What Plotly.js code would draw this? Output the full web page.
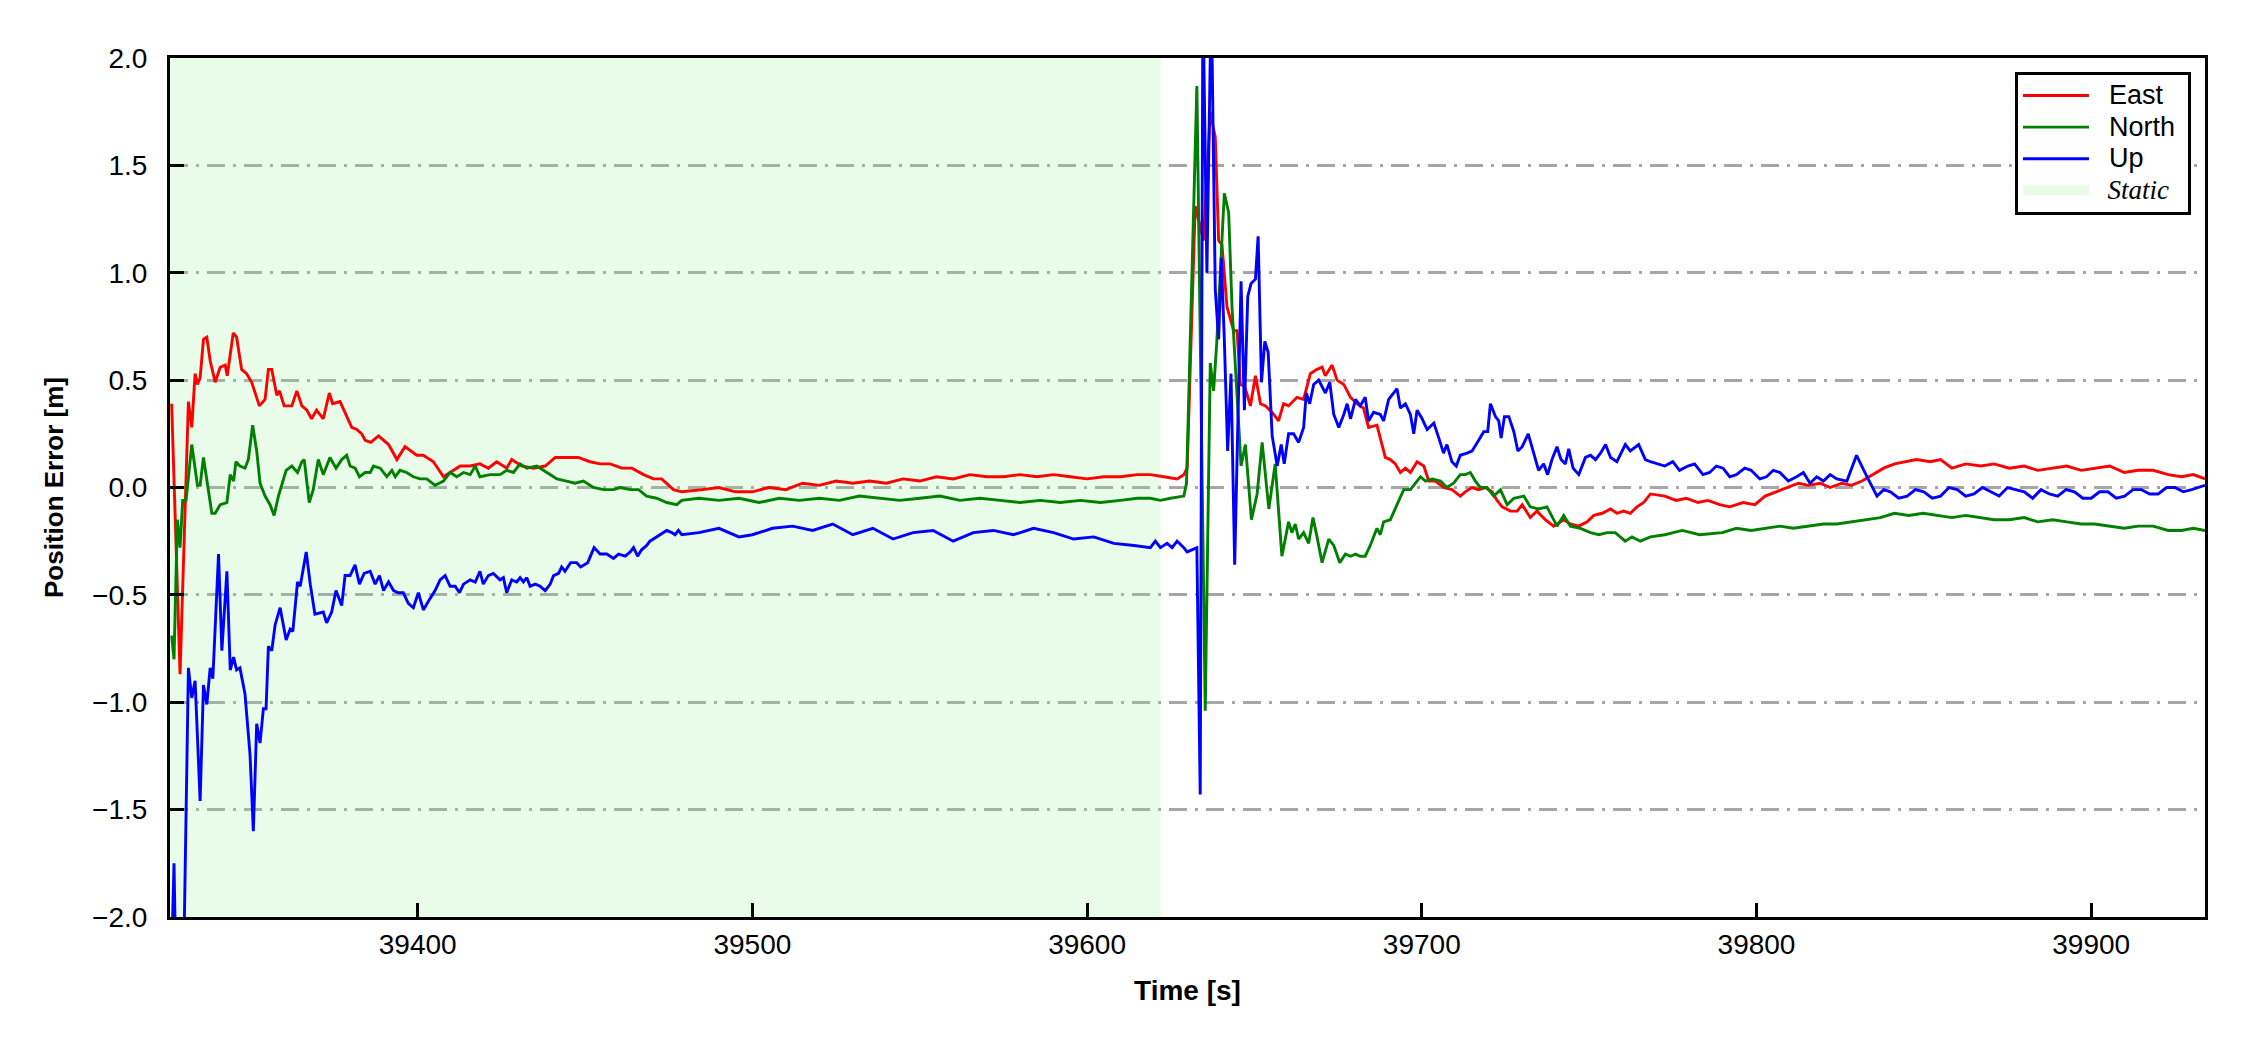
<!DOCTYPE html>
<html>
<head>
<meta charset="utf-8">
<script src="https://cdn.plot.ly/plotly-3.0.1.min.js"></script>
<style>html,body{margin:0;padding:0;background:#fff;}#chart{width:2250px;height:1050px;}</style>
</head>
<body>
<div id="chart"></div>
<script>
// ---------------- data ----------------
const seriesNames = ["East", "North", "Up"];
const staticLabel = "Static";
const staticStart = [39326];
const staticEnd = [39622];
const xTicks = [39400, 39500, 39600, 39700, 39800, 39900];
const yTicks = [-2.0, -1.5, -1.0, -0.5, 0.0, 0.5, 1.0, 1.5, 2.0];
const xRange = [39326, 39934];
const yRange = [-2, 2];

const eastT = [39326.5,39329.0,39331.5,39332.5,39333.5,39334.2,39335.0,39336.0,39337.0,39338.0,39339.5,39341.0,39342.5,39343.1,39344.9,39345.9,39347.4,39348.9,39350.4,39352.7,39354.4,39355.4,39356.4,39357.9,39358.7,39360.1,39362.4,39363.9,39365.4,39366.9,39368.3,39369.8,39371.8,39373.6,39374.6,39376.8,39380.3,39381.8,39383.3,39384.3,39386.0,39388.3,39391.3,39393.8,39396.2,39399.7,39401.7,39404.7,39407.7,39409.7,39412.7,39415.7,39418.6,39421.1,39423.6,39426.6,39428.1,39431.1,39434.6,39438.1,39441.1,39444.5,39448.0,39451.5,39454.5,39457.5,39461.0,39464.0,39467.5,39470.4,39472.9,39476.4,39478.9,
39485,39490,39495,39500,39505,39510,39515,39520,39525,39530,39535,39540,39545,39550,39555,39560,39565,39570,39575,39580,39585,39590,39595,39600,39605,39610,39615,
39618.9,39622.9,39626.9,39628.9,39629.9,39632.3,39634.8,39636.8,39638.3,39639.3,39640.3,39641.8,39643.8,39644.8,39645.8,39647.1,39648.8,39650.3,39651.8,39653.3,39655.3,39657.2,39658.7,39660.2,39662.7,39664.7,39666.7,39668.7,39670.2,39671.2,39673.2,39674.7,39676.7,39678.7,39680.7,39682.6,39684.1,39686.6,39689.1,39690.6,39692.1,39693.6,39695.1,39696.6,39698.6,39700.6,39702.1,39704.1,39706.5,39709.0,39711.5,39713.0,39715.0,39717.0,39719.0,39721.0,39722.5,39724.0,39726.5,39728.5,39730.0,39732.4,39734.4,39736.9,39739.4,39742.4,39744.4,39746.9,39749.4,39751.4,39753.9,39756.4,39758.3,39760.3,39762.3,39764.3,39766.3,39768.3,
39772.6,39776.0,39779.0,39782.5,39785.5,39789.0,39792.0,39796.0,39799.5,39802.6,39806.0,39809.0,39812.5,39815.5,39819.0,39822.0,39825.5,39828.4,39831.5,39834.8,39838.0,39841.3,39844.5,39847.7,39852.0,39855.0,39858.4,39862.5,39867.0,39871.0,39875.5,39880.0,39884.0,39888.5,39892.7,39897.0,39901.0,39905.5,39909.9,39914.0,39918.5,39923.0,39927.0,39930.5,39934.0];
const eastV = [0.39,-0.87,0.40,0.28,0.53,0.48,0.51,0.69,0.70,0.59,0.49,0.56,0.57,0.52,0.72,0.70,0.55,0.53,0.49,0.38,0.41,0.55,0.55,0.43,0.45,0.38,0.38,0.45,0.38,0.36,0.32,0.36,0.32,0.44,0.39,0.40,0.28,0.27,0.25,0.22,0.21,0.24,0.20,0.13,0.19,0.15,0.15,0.12,0.05,0.07,0.10,0.10,0.11,0.09,0.12,0.09,0.13,0.10,0.09,0.10,0.14,0.14,0.14,0.12,0.11,0.11,0.09,0.09,0.06,0.04,0.04,-0.01,-0.02,
-0.01,0.00,-0.02,-0.02,0.00,-0.01,0.02,0.01,0.03,0.02,0.03,0.02,0.04,0.03,0.05,0.04,0.06,0.05,0.05,0.06,0.05,0.06,0.05,0.04,0.05,0.05,0.06,
0.06,0.05,0.04,0.06,0.09,1.31,1.15,1.75,1.63,1.15,1.13,0.84,0.73,0.73,0.48,0.47,0.38,0.52,0.39,0.38,0.35,0.31,0.39,0.38,0.42,0.41,0.53,0.55,0.56,0.52,0.57,0.50,0.48,0.42,0.39,0.37,0.28,0.29,0.14,0.13,0.11,0.07,0.09,0.07,0.12,0.10,0.03,0.03,0.00,-0.01,-0.04,-0.02,0.00,-0.01,0.00,-0.02,-0.06,-0.09,-0.11,-0.11,-0.08,-0.14,-0.11,-0.15,-0.18,-0.15,-0.17,-0.18,-0.16,-0.13,-0.12,-0.10,-0.12,-0.11,-0.12,-0.09,-0.07,-0.03,
-0.04,-0.06,-0.05,-0.07,-0.06,-0.08,-0.09,-0.07,-0.08,-0.04,-0.02,0.00,0.02,0.01,0.02,0.00,0.02,0.01,0.03,0.06,0.09,0.11,0.12,0.13,0.12,0.13,0.09,0.11,0.10,0.11,0.09,0.10,0.08,0.09,0.10,0.08,0.09,0.10,0.07,0.08,0.08,0.06,0.05,0.06,0.04];

const northT = [39326.5,39327.2,39328.2,39329.0,39329.8,39330.8,39332.5,39334.2,39335.0,39336.0,39338.5,39339.5,39341.0,39343.0,39344.0,39345.0,39345.7,39346.9,39348.4,39349.4,39350.7,39351.9,39352.9,39354.4,39355.9,39357.1,39358.4,39359.4,39360.7,39362.4,39364.1,39365.4,39366.1,39367.6,39368.8,39370.3,39371.8,39373.8,39375.6,39377.3,39378.8,39379.8,39381.3,39382.6,39384.3,39385.8,39386.8,39388.8,39390.8,39392.3,39393.3,39394.7,39396.7,39398.7,39400.7,39402.7,39405.2,39407.7,39409.7,39411.7,39413.7,39415.7,39417.2,39418.6,39421.6,39424.6,39426.6,39428.6,39430.6,39432.6,39435.6,39438.6,39441.6,39444.5,39447.0,39449.5,39452.5,39455.5,39458.5,39460.5,39463.5,39466.0,39468.4,39471.4,39474.4,39477.4,39478.9,
39484,39490,39496,39502,39508,39514,39520,39526,39532,39538,39544,39550,39556,39562,39568,39574,39580,39586,39592,39598,39604,39610,39615,
39618.9,39621.9,39624.9,39628.9,39629.7,39632.8,39635.3,39636.8,39637.8,39638.8,39641.0,39642.3,39643.3,39644.8,39646.0,39647.3,39649.1,39650.8,39652.3,39654.3,39656.2,39658.2,39660.2,39661.2,39662.2,39663.2,39664.7,39666.2,39667.5,39668.7,39670.2,39672.2,39673.7,39675.5,39677.2,39678.7,39680.2,39681.6,39683.1,39684.6,39686.6,39687.6,39688.6,39690.6,39692.6,39694.6,39696.6,39698.6,39699.6,39701.1,39703.1,39705.6,39707.5,39709.5,39711.5,39713.0,39714.5,39716.0,39717.5,39719.5,39721.5,39723.5,39725.5,39727.5,39730.5,39732.4,39734.9,39737.4,39740.4,39742.4,39744.4,39747.4,39750.4,39752.9,39755.4,39757.8,39760.8,39762.8,39765.3,39768.3,
39772.6,39777.8,39783.0,39789.8,39794.0,39798.4,39803.0,39807.0,39811.0,39815.5,39820.0,39824.0,39828.0,39832.7,39837.0,39841.2,39845.5,39849.8,39854.0,39858.4,39862.5,39867.0,39871.0,39875.5,39880.0,39884.0,39888.5,39892.7,39897.0,39901.0,39905.5,39909.9,39914.0,39918.5,39923.0,39927.0,39930.5,39934.0];
const northV = [-0.69,-0.80,-0.15,-0.28,-0.06,-0.06,0.20,0.01,0.01,0.14,-0.12,-0.12,-0.08,-0.07,0.06,0.03,0.12,0.10,0.09,0.13,0.29,0.17,0.02,-0.04,-0.08,-0.13,-0.04,0.01,0.08,0.10,0.07,0.12,0.13,-0.07,-0.01,0.13,0.06,0.14,0.09,0.13,0.15,0.10,0.09,0.05,0.07,0.07,0.10,0.09,0.05,0.08,0.05,0.08,0.07,0.05,0.04,0.04,0.01,0.03,0.07,0.05,0.07,0.06,0.10,0.05,0.06,0.06,0.08,0.07,0.11,0.09,0.10,0.07,0.04,0.03,0.02,0.03,0.00,-0.01,-0.01,0.00,-0.01,-0.01,-0.04,-0.05,-0.07,-0.08,-0.06,
-0.05,-0.06,-0.05,-0.07,-0.05,-0.06,-0.05,-0.06,-0.04,-0.05,-0.06,-0.05,-0.04,-0.06,-0.05,-0.06,-0.07,-0.06,-0.07,-0.06,-0.07,-0.06,-0.05,
-0.05,-0.06,-0.05,-0.04,0.02,1.87,-1.04,0.58,0.45,0.69,1.37,1.28,0.84,0.45,0.10,0.20,-0.15,-0.03,0.21,-0.10,0.11,-0.32,-0.16,-0.21,-0.17,-0.24,-0.21,-0.26,-0.14,-0.23,-0.35,-0.24,-0.27,-0.35,-0.31,-0.32,-0.31,-0.32,-0.32,-0.27,-0.19,-0.22,-0.16,-0.15,-0.08,-0.01,-0.01,0.03,0.05,0.03,0.04,0.03,0.00,0.02,0.06,0.06,0.07,0.03,0.00,0.00,-0.04,-0.01,-0.08,-0.05,-0.04,-0.09,-0.10,-0.09,-0.18,-0.13,-0.18,-0.19,-0.21,-0.22,-0.21,-0.21,-0.25,-0.23,-0.25,-0.23,
-0.22,-0.20,-0.22,-0.21,-0.19,-0.20,-0.19,-0.18,-0.19,-0.18,-0.17,-0.17,-0.16,-0.15,-0.14,-0.12,-0.13,-0.12,-0.13,-0.14,-0.13,-0.14,-0.15,-0.15,-0.14,-0.16,-0.15,-0.16,-0.17,-0.17,-0.18,-0.19,-0.18,-0.18,-0.20,-0.20,-0.19,-0.20];

const upT = [39326.3,39327.2,39327.8,39330.0,39331.5,39332.5,39333.5,39335.0,39336.0,39337.0,39338.0,39338.8,39340.5,39341.5,39343.0,39344.0,39345.0,39345.9,39346.9,39348.4,39349.9,39350.9,39351.9,39352.9,39353.9,39354.7,39355.4,39356.4,39357.4,39358.9,39360.7,39361.9,39362.7,39364.1,39364.9,39366.7,39367.9,39369.3,39371.8,39372.8,39374.3,39375.6,39377.3,39378.3,39379.8,39381.3,39382.6,39384.0,39385.8,39387.3,39388.6,39389.8,39391.3,39392.8,39394.2,39395.7,39397.2,39398.7,39400.2,39401.7,39403.2,39405.2,39406.7,39408.2,39409.7,39411.2,39412.5,39413.7,39415.7,39417.2,39418.6,39419.6,39421.1,39422.6,39424.6,39425.6,39426.6,39428.1,39429.6,39430.6,39431.6,39432.6,39433.6,39435.1,39436.6,39438.1,39439.6,39440.6,39442.1,39443.0,39444.0,39445.7,39447.5,39448.7,39450.8,39452.7,39454.5,39456.5,39458.5,39460.0,39462.0,39463.5,39464.5,39465.7,39466.9,39468.4,39469.4,39470.4,39471.4,39472.4,39474.4,39475.9,39476.9,39477.9,39478.9,
39484,39490,39496,39500,39506,39512,39518,39524,39530,39536,39542,39548,39554,39560,39566,39572,39578,39584,39590,39596,39602,39608,39614,
39618.9,39620.4,39621.9,39623.9,39625.4,39626.9,39628.9,39629.9,39632.8,39633.8,39634.6,39635.8,39637.1,39638.3,39639.3,39640.1,39641.0,39642.0,39643.0,39644.1,39645.0,39646.0,39647.0,39648.0,39649.0,39650.3,39651.1,39652.1,39653.1,39654.1,39655.3,39656.8,39658.0,39658.9,39660.2,39661.7,39663.2,39664.7,39665.5,39666.5,39667.7,39669.2,39671.2,39672.5,39673.7,39675.2,39676.7,39677.7,39678.7,39680.2,39681.6,39683.1,39684.1,39685.6,39687.6,39688.6,39690.1,39692.6,39693.6,39695.1,39696.6,39697.6,39698.6,39700.1,39701.6,39703.6,39705.1,39706.5,39707.5,39709.0,39710.3,39711.5,39713.5,39715.0,39717.0,39718.5,39719.7,39720.5,39722.0,39723.0,39723.7,39724.7,39726.0,39727.5,39728.7,39730.0,39731.8,39733.4,39734.9,39736.4,39737.6,39738.9,39740.4,39741.6,39742.9,39743.9,39745.2,39746.9,39748.9,39750.4,39751.9,39753.4,39754.9,39756.4,39758.3,39760.8,39762.3,39764.8,39766.8,39768.3,
39772.6,39775.0,39777.0,39779.5,39781.5,39784.0,39786.0,39788.0,39790.0,39792.0,39794.0,39796.5,39798.4,39801.0,39803.0,39805.0,39807.0,39809.5,39812.0,39814.0,39816.0,39818.0,39820.0,39822.0,39824.0,39827.0,39829.9,39832.7,39836.0,39838.0,39840.0,39842.5,39845.0,39847.5,39850.0,39852.5,39855.0,39857.5,39860.0,39862.5,39865.0,39867.5,39870.0,39872.5,39875.0,39877.5,39880.0,39882.5,39885.0,39887.5,39890.0,39892.5,39895.0,39897.5,39900.0,39902.5,39905.0,39907.5,39910.0,39912.5,39915.0,39917.5,39920.0,39922.5,39925.0,39927.5,39930.0,39934.0];
const upV = [-2.3,-1.75,-2.3,-2.3,-0.84,-0.98,-0.90,-1.46,-0.92,-1.01,-0.84,-0.89,-0.31,-0.76,-0.39,-0.85,-0.79,-0.85,-0.84,-0.96,-1.24,-1.60,-1.10,-1.19,-1.03,-1.03,-0.74,-0.76,-0.64,-0.56,-0.71,-0.66,-0.67,-0.44,-0.46,-0.30,-0.45,-0.59,-0.58,-0.63,-0.58,-0.48,-0.55,-0.41,-0.41,-0.36,-0.45,-0.40,-0.39,-0.45,-0.41,-0.48,-0.44,-0.48,-0.49,-0.49,-0.54,-0.56,-0.49,-0.57,-0.53,-0.48,-0.43,-0.41,-0.46,-0.46,-0.49,-0.45,-0.43,-0.44,-0.39,-0.45,-0.41,-0.40,-0.43,-0.42,-0.49,-0.43,-0.44,-0.42,-0.44,-0.42,-0.46,-0.45,-0.46,-0.48,-0.45,-0.41,-0.40,-0.37,-0.39,-0.35,-0.35,-0.37,-0.35,-0.28,-0.31,-0.31,-0.33,-0.31,-0.32,-0.30,-0.28,-0.32,-0.29,-0.27,-0.25,-0.24,-0.23,-0.22,-0.20,-0.21,-0.22,-0.20,-0.22,
-0.21,-0.19,-0.23,-0.22,-0.19,-0.18,-0.20,-0.17,-0.22,-0.19,-0.24,-0.21,-0.20,-0.25,-0.21,-0.20,-0.22,-0.19,-0.21,-0.24,-0.23,-0.26,-0.27,
-0.28,-0.25,-0.28,-0.26,-0.28,-0.25,-0.28,-0.30,-0.28,-1.43,2.3,1.0,2.3,0.92,0.69,1.07,0.69,0.17,0.53,-0.36,0.30,0.96,0.36,0.89,0.95,0.97,1.17,0.49,0.68,0.63,0.24,0.10,0.20,0.11,0.25,0.25,0.21,0.28,0.44,0.39,0.48,0.50,0.44,0.49,0.34,0.28,0.34,0.39,0.32,0.41,0.38,0.42,0.31,0.35,0.34,0.31,0.41,0.46,0.37,0.39,0.34,0.25,0.36,0.32,0.27,0.30,0.23,0.16,0.20,0.12,0.10,0.15,0.16,0.17,0.22,0.26,0.26,0.39,0.33,0.31,0.23,0.33,0.33,0.26,0.17,0.19,0.25,0.16,0.08,0.11,0.06,0.13,0.19,0.13,0.11,0.18,0.09,0.06,0.14,0.15,0.13,0.16,0.20,0.14,0.12,0.20,0.17,0.20,0.13,0.12,
0.10,0.12,0.08,0.10,0.11,0.06,0.07,0.10,0.09,0.05,0.06,0.09,0.08,0.04,0.05,0.08,0.07,0.03,0.05,0.07,0.02,0.05,0.03,0.06,0.04,0.03,0.15,0.06,-0.04,-0.01,-0.02,-0.05,-0.04,-0.01,-0.02,-0.05,-0.04,0.00,-0.01,-0.04,-0.03,0.00,-0.02,-0.04,0.00,-0.01,-0.02,-0.05,-0.01,-0.03,-0.04,-0.01,-0.02,-0.05,-0.05,-0.02,-0.02,-0.05,-0.04,-0.01,-0.01,-0.03,-0.03,0.00,0.00,-0.02,-0.01,0.01];

// ---------------- chart ----------------
const FONT = "Liberation Sans, Arial, sans-serif";
const lineColors = ["#ff0000", "#008000", "#0000ff"];
const staticFill = "rgba(144,238,144,0.2)";
const seriesT = [eastT, northT, upT];
const seriesV = [eastV, northV, upV];
const lead = "\u00a0\u00a0";
const tail = "\u00a0";
function legendLabel(inner, italicSerif) {
  const style = italicSerif ? "font-size:27px;font-family:'Liberation Serif',serif" : "font-size:27px";
  const body = italicSerif ? "<i>" + inner + "</i>" : inner;
  return "<span style=\"" + style + "\">" + lead + body + tail + "</span>";
}

const traces = [];
// shaded static interval (drawn first so the lines sit on top)
traces.push({
  type: "scatter", mode: "lines", showlegend: false,
  x: [staticStart[0], staticEnd[0], staticEnd[0], staticStart[0], staticStart[0]],
  y: [yRange[0], yRange[0], yRange[1], yRange[1], yRange[0]],
  fill: "toself", fillcolor: staticFill,
  line: {width: 0, color: "rgba(0,0,0,0)"},
  hoverinfo: "skip"
});
for (let i = 0; i < 3; i++) {
  traces.push({
    type: "scatter", mode: "lines", name: legendLabel(seriesNames[i], false),
    x: seriesT[i], y: seriesV[i],
    line: {color: lineColors[i], width: 2.9},
    legendrank: i + 1
  });
}
// legend entry for the static interval
traces.push({
  type: "scatter", mode: "lines", name: legendLabel(staticLabel, true),
  x: [null], y: [null],
  line: {color: "#e9fce9", width: 17},
  legendrank: 4, hoverinfo: "skip"
});

const layout = {
  width: 2250, height: 1050,
  margin: {l: 170, r: 45, t: 58, b: 133, pad: 0},
  paper_bgcolor: "#ffffff", plot_bgcolor: "#ffffff",
  font: {family: FONT, color: "#000"},
  showlegend: true,
  legend: {
    x: 0.9931, xanchor: "right", y: 0.984, yanchor: "top",
    bgcolor: "#ffffff", bordercolor: "#000", borderwidth: 3,
    font: {family: FONT, size: 22, color: "#000"},
    itemwidth: 66, tracegroupgap: 0, traceorder: "normal"
  },
  xaxis: {
    range: xRange, tickvals: xTicks, ticktext: xTicks.map(String),
    ticks: "inside", ticklen: 14, tickwidth: 3, tickcolor: "#000",
    showline: true, linewidth: 3, linecolor: "#000", mirror: true,
    showgrid: false, zeroline: false,
    tickfont: {family: FONT, size: 28, color: "#000"},
    ticklabelstandoff: 0,
    title: {text: "<b>Time [s]</b>", font: {family: FONT, size: 28, color: "#000"}, standoff: 22}
  },
  yaxis: {
    range: yRange, tickvals: yTicks, tickformat: ".1f",
    ticks: "inside", ticklen: 14, tickwidth: 3, tickcolor: "#000",
    showline: true, linewidth: 3, linecolor: "#000", mirror: true,
    showgrid: true, gridcolor: "#a6a6a6", gridwidth: 3, griddash: "18px,8px,3px,8px",
    zeroline: false,
    tickfont: {family: FONT, size: 28, color: "#000"},
    ticklabelstandoff: 14,
    title: {text: "<b>Position Error [m]</b>", font: {family: FONT, size: 26, color: "#000"}, standoff: 22}
  }
};

Plotly.newPlot("chart", traces, layout, {staticPlot: true, displayModeBar: false});
</script>
</body>
</html>
